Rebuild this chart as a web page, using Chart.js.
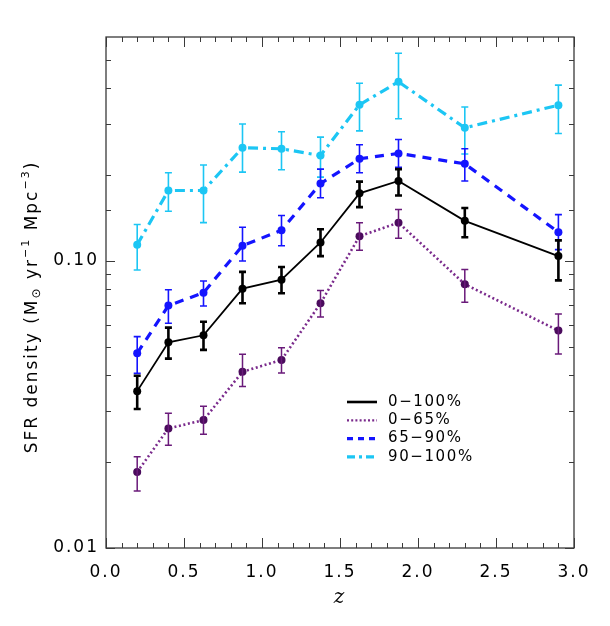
<!DOCTYPE html>
<html><head><meta charset="utf-8">
<script src="https://cdn.jsdelivr.net/npm/chart.js@4/dist/chart.umd.min.js"></script>
<style>html,body{margin:0;padding:0;background:#fff;}#wrap{width:610px;height:626px;}</style>
</head><body><div id="wrap"><canvas id="c" width="610" height="626"></canvas></div>
<script>
// ---- data ----
const redshift = [0.2, 0.4, 0.625, 0.875, 1.125, 1.375, 1.625, 1.875, 2.3, 2.9];

const labels = ['0\u2212100%', '0\u221265%', '65\u221290%', '90\u2212100%'];

const sfrAll   = [0.0352, 0.0521, 0.0551, 0.0801, 0.0861, 0.116, 0.172, 0.190, 0.138, 0.104];
const sfrAllHi = [0.0398, 0.0586, 0.0614, 0.0916, 0.0953, 0.129, 0.189, 0.209, 0.153, 0.118];
const sfrAllLo = [0.0305, 0.0457, 0.0490, 0.0712, 0.0772, 0.104, 0.154, 0.169, 0.121, 0.0856];

const sfrLow   = [0.0184, 0.0261, 0.0279, 0.0411, 0.0452, 0.0712, 0.122, 0.136, 0.0830, 0.0572];
const sfrLowHi = [0.0208, 0.0295, 0.0312, 0.0473, 0.0499, 0.0789, 0.136, 0.151, 0.0933, 0.0654];
const sfrLowLo = [0.0158, 0.0228, 0.0249, 0.0365, 0.0407, 0.0638, 0.109, 0.120, 0.0718, 0.0474];

const sfrMid   = [0.0477, 0.0699, 0.0775, 0.113, 0.128, 0.186, 0.227, 0.237, 0.218, 0.126];
const sfrMidHi = [0.0545, 0.0794, 0.0852, 0.131, 0.144, 0.209, 0.254, 0.265, 0.246, 0.145];
const sfrMidLo = [0.0406, 0.0607, 0.0697, 0.100, 0.113, 0.166, 0.203, 0.212, 0.190, 0.1095];

const sfrHigh   = [0.114, 0.176, 0.176, 0.248, 0.246, 0.233, 0.350, 0.421, 0.291, 0.349];
const sfrHighHi = [0.134, 0.203, 0.216, 0.300, 0.282, 0.270, 0.416, 0.529, 0.344, 0.410];
const sfrHighLo = [0.093, 0.149, 0.136, 0.204, 0.208, 0.196, 0.284, 0.313, 0.236, 0.278];

const xTickValues = [0.0, 0.5, 1.0, 1.5, 2.0, 2.5, 3.0];
const xMinorStep = 0.1;
const yLabelledTicks = [0.01, 0.1];
const yLabelText = ['0.01', '0.10'];

// ---- styles ----
const FONT = "'DejaVu Sans', sans-serif";
const styles = [
  {line:'#000000', point:'#000000', err:'#000000', width:1.8, dash:[], errW:2.6, legW:2.6, legDash:[]},
  {line:'#7a2a8c', point:'#4a0b5c', err:'#6a1a7a', width:2.6, dash:[2,2.6], errW:1.5, legW:2.2, legDash:[2,2.2]},
  {line:'#1414ff', point:'#1414ff', err:'#1414ff', width:3.2, dash:[9,7], errW:1.6, legW:3.2, legDash:[6,5]},
  {line:'#1cc6f4', point:'#1cc6f4', err:'#1cc6f4', width:3.2, dash:[10,5,3,5], errW:1.6, legW:3.2, legDash:[8,4,3,4]}
];
const values = [sfrAll, sfrLow, sfrMid, sfrHigh];
const highs = [sfrAllHi, sfrLowHi, sfrMidHi, sfrHighHi];
const lows = [sfrAllLo, sfrLowLo, sfrMidLo, sfrHighLo];

const datasets = values.map((vals, k) => ({
  label: labels[k],
  data: redshift.map((z, i) => ({x: z, y: vals[i]})),
  borderColor: styles[k].line,
  backgroundColor: styles[k].point,
  pointBackgroundColor: styles[k].point,
  pointBorderColor: styles[k].point,
  pointRadius: 4,
  pointBorderWidth: 0,
  borderWidth: styles[k].width,
  borderDash: styles[k].dash,
  borderCapStyle: 'butt',
  tension: 0,
  fill: false
}));

const spacing = {
  id: 'spacing',
  beforeDraw(chart) { chart.ctx.letterSpacing = '2px'; }
};

const errorBars = {
  id: 'errorBars',
  afterDatasetDraw(chart, args) {
    const k = args.index;
    const {ctx, scales: {x, y}} = chart;
    const st = styles[k];
    ctx.save();
    ctx.strokeStyle = st.err;
    ctx.lineWidth = st.errW;
    ctx.setLineDash([]);
    const cap = 3.5;
    redshift.forEach((z, i) => {
      const px = x.getPixelForValue(z);
      const pHi = y.getPixelForValue(highs[k][i]);
      const pLo = y.getPixelForValue(lows[k][i]);
      ctx.beginPath();
      ctx.moveTo(px, pHi); ctx.lineTo(px, pLo);
      ctx.moveTo(px - cap, pHi); ctx.lineTo(px + cap, pHi);
      ctx.moveTo(px - cap, pLo); ctx.lineTo(px + cap, pLo);
      ctx.stroke();
    });
    ctx.restore();
  }
};

const frame = {
  id: 'frame',
  afterDraw(chart) {
    const {ctx, chartArea: {left, right, top, bottom}, scales: {x, y}} = chart;
    ctx.save();
    ctx.strokeStyle = '#3a3a3a';
    ctx.lineWidth = 1.3;
    ctx.setLineDash([]);
    ctx.strokeRect(left, top, right - left, bottom - top);
    ctx.lineWidth = 1;
    ctx.beginPath();
    const nMinor = Math.round((x.max - x.min) / xMinorStep);
    for (let i = 0; i <= nMinor; i++) {
      const v = x.min + i * xMinorStep;
      const px = Math.round(x.getPixelForValue(v)) + 0.5;
      const major = xTickValues.some(t => Math.abs(t - v) < 1e-6);
      const len = major ? 10 : 5;
      ctx.moveTo(px, bottom); ctx.lineTo(px, bottom - len);
      ctx.moveTo(px, top); ctx.lineTo(px, top + len);
    }
    y.ticks.forEach(t => {
      const v = t.value;
      const py = y.getPixelForValue(v);
      if (py > bottom + 0.5 || py < top + 1.5) return;
      const lg = Math.log10(v);
      const major = Math.abs(lg - Math.round(lg)) < 1e-6;
      const len = major ? 9 : 5;
      const yy = Math.round(py) + 0.5;
      ctx.moveTo(left, yy); ctx.lineTo(left + len, yy);
      ctx.moveTo(right, yy); ctx.lineTo(right - len, yy);
    });
    ctx.stroke();

    // y-axis title with sub/superscripts
    ctx.letterSpacing = '2px';
    const cx = 33, cy = 307;
    const pieces = [
      {t: 'SFR density (M', s: 17, dy: 0},
      {t: '\u2299', s: 12, dy: 4},
      {t: ' yr', s: 17, dy: 0},
      {t: '\u22121', s: 11, dy: -7},
      {t: ' Mpc', s: 17, dy: 0},
      {t: '\u22123', s: 11, dy: -7},
      {t: ')', s: 17, dy: 0}
    ];
    let total = 0;
    pieces.forEach(p => { ctx.font = p.s + 'px ' + FONT; p.w = ctx.measureText(p.t).width; total += p.w; });
    ctx.translate(cx, cy);
    ctx.rotate(-Math.PI / 2);
    ctx.fillStyle = '#000';
    ctx.textBaseline = 'middle';
    ctx.textAlign = 'left';
    let xx = -total / 2;
    pieces.forEach(p => { ctx.font = p.s + 'px ' + FONT; ctx.fillText(p.t, xx, p.dy); xx += p.w; });
    ctx.restore();

    // legend
    ctx.save();
    ctx.letterSpacing = '1.6px';
    const lx0 = left + 241, lx1 = left + 271, tx = left + 282;
    const ly0 = top + 365, dy = 18.3;
    ctx.font = '15px ' + FONT;
    ctx.textBaseline = 'middle';
    ctx.fillStyle = '#000';
    labels.forEach((lab, k) => {
      const ly = ly0 + k * dy;
      ctx.strokeStyle = styles[k].line;
      ctx.lineWidth = styles[k].legW;
      ctx.setLineDash(styles[k].legDash);
      ctx.beginPath(); ctx.moveTo(lx0, ly); ctx.lineTo(lx1, ly); ctx.stroke();
      ctx.fillText(lab, tx, ly);
    });
    ctx.restore();
  }
};

new Chart(document.getElementById('c'), {
  type: 'line',
  data: {datasets},
  plugins: [spacing, errorBars, frame],
  options: {
    responsive: false,
    devicePixelRatio: 1,
    animation: false,
    layout: {padding: {top: 37, right: 36, left: 0, bottom: 0}},
    plugins: {legend: {display: false}, tooltip: {enabled: false}, title: {display: false}},
    scales: {
      x: {
        type: 'linear', min: 0, max: 3,
        afterBuildTicks(scale) { scale.ticks = xTickValues.map(v => ({value: v})); },
        afterFit(scale) { scale.height = 78; },
        grid: {display: false, drawTicks: false},
        border: {display: false},
        ticks: {padding: 14, color: '#000', font: {family: FONT, size: 17}, autoSkip: false, maxRotation: 0,
          callback: v => Number(v).toFixed(1)},
        title: {display: true, text: 'z', color: '#000', font: {family: "'DejaVu Serif', serif", style: 'italic', size: 20}, padding: {top: 0, bottom: 16}}
      },
      y: {
        type: 'logarithmic', min: 0.01, max: 0.603,
        afterFit(scale) { scale.width = 106; },
        grid: {display: false, drawTicks: false},
        border: {display: false},
        ticks: {padding: 7, color: '#000', font: {family: FONT, size: 17}, autoSkip: false,
          callback: v => {
            const idx = yLabelledTicks.findIndex(t => Math.abs(t - v) < 1e-9);
            return idx >= 0 ? yLabelText[idx] : '';
          }}
      }
    }
  }
});
</script></body></html>
